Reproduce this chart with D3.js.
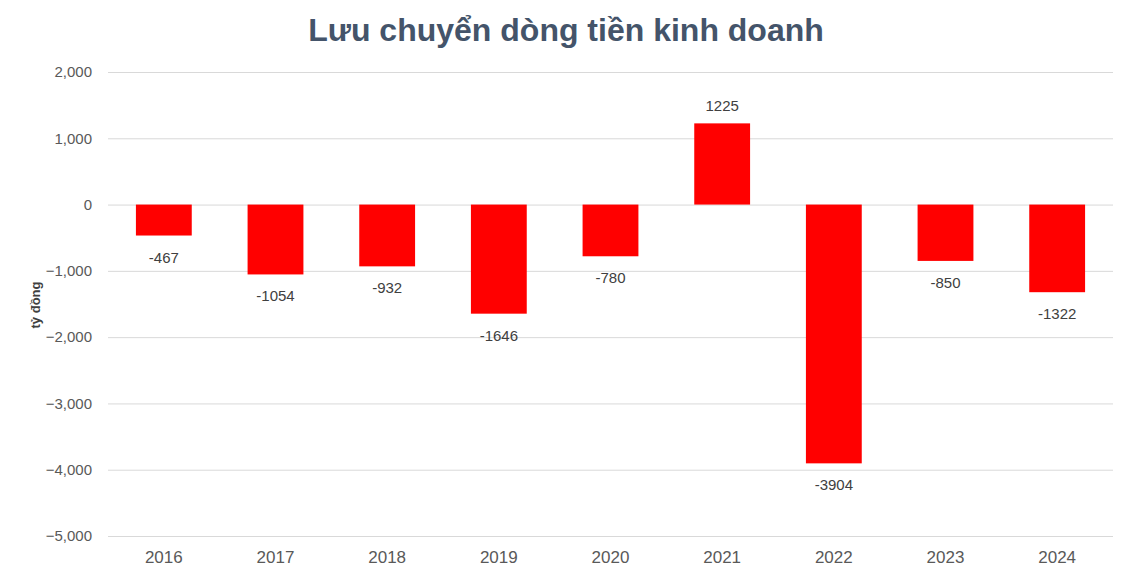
<!DOCTYPE html>
<html><head><meta charset="utf-8">
<script src="https://cdn.jsdelivr.net/npm/d3@7"></script>
<style>body{margin:0;background:#fff}</style></head>
<body><svg id="c" width="1133" height="578"></svg>
<script>
const years = ["2016","2017","2018","2019","2020","2021","2022","2023","2024"];
const values = [-467,-1054,-932,-1646,-780,1225,-3904,-850,-1322];
const yTicks = [2000,1000,0,-1000,-2000,-3000,-4000,-5000];

const svg = d3.select("#c");
const font = "Liberation Sans, Arial, sans-serif";
const x = d3.scaleBand().domain(years).range([108,1113]).paddingInner(0.5).paddingOuter(0.25);
const y = d3.scaleLinear().domain([-5000,2000]).range([536,72]);

svg.append("text").attr("x",566).attr("y",41).attr("text-anchor","middle")
  .attr("font-family",font).attr("font-weight","bold").attr("font-size",32).attr("fill","#44546a")
  .text("Lưu chuyển dòng tiền kinh doanh");

const g = svg.append("g").attr("transform","translate(108,0)");
const ax = d3.axisLeft(y).tickValues(yTicks).tickSize(-1005).tickPadding(16);
g.call(ax);
g.select(".domain").remove();
g.selectAll(".tick line").attr("stroke","#d9d9d9");
g.selectAll(".tick text").attr("font-family",font).attr("font-size",15).attr("fill","#595959");

svg.selectAll("rect.b").data(values).join("rect").attr("class","b")
  .attr("x",(d,i)=>x(years[i])).attr("width",x.bandwidth())
  .attr("y",d=>y(Math.max(0,d))).attr("height",d=>Math.abs(y(d)-y(0)))
  .attr("fill","#ff0000");

svg.selectAll("text.v").data(values).join("text").attr("class","v")
  .attr("x",(d,i)=>x(years[i])+x.bandwidth()/2)
  .attr("y",d=>d<0? y(d)+27 : y(d)-12)
  .attr("text-anchor","middle").attr("font-family",font).attr("font-size",15).attr("fill","#404040")
  .text(d=>d);

svg.selectAll("text.xl").data(years).join("text").attr("class","xl")
  .attr("x",d=>x(d)+x.bandwidth()/2).attr("y",563).attr("text-anchor","middle")
  .attr("font-family",font).attr("font-size",17).attr("fill","#595959").text(d=>d);

svg.append("text").attr("transform","translate(40,305) rotate(-90)").attr("text-anchor","middle")
  .attr("font-family",font).attr("font-weight","bold").attr("font-size",13).attr("fill","#404040")
  .text("tỷ đồng");
</script></body></html>
